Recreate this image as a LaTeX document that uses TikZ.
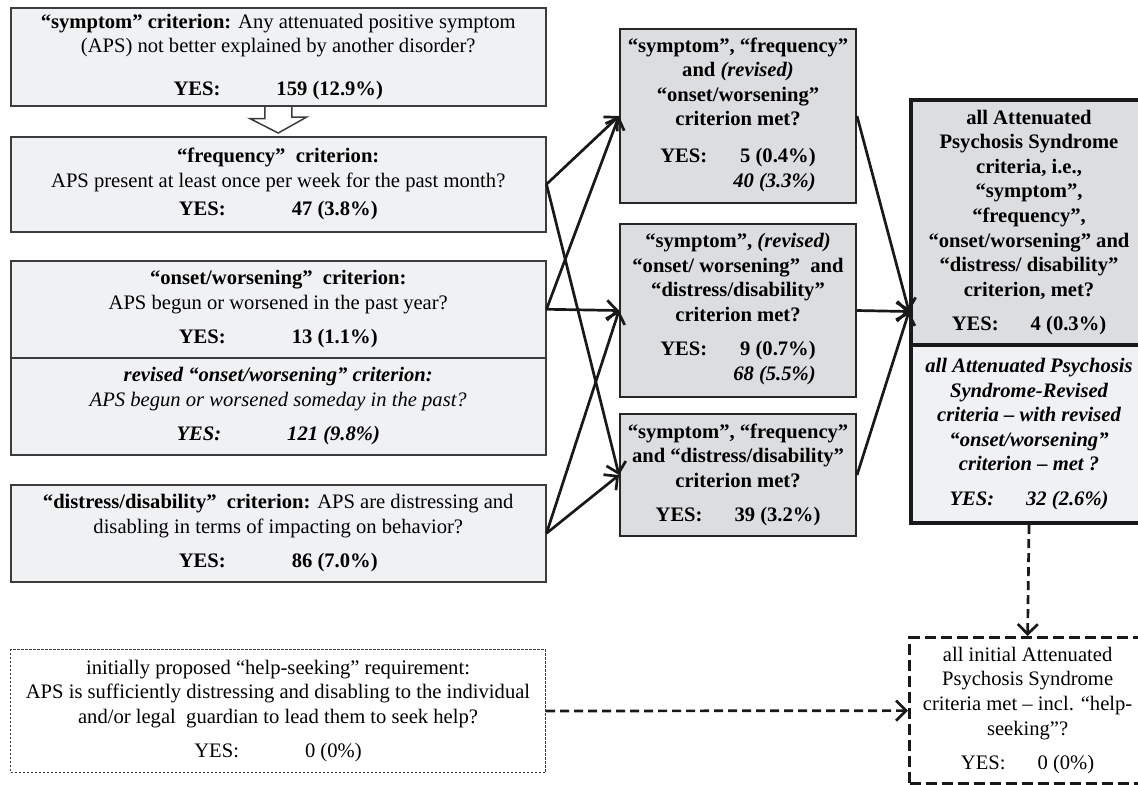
\documentclass[tikz,border=0pt]{standalone}
\usepackage{fontspec}
\setmainfont{Liberation Serif}
\usetikzlibrary{arrows.meta,calc}

\definecolor{critfill}{HTML}{F0F1F3}
\definecolor{combofill}{HTML}{DCDDDF}
\definecolor{boxline}{HTML}{3C3C3C}

\begin{document}
\begin{tikzpicture}[x=0.5pt,y=-0.5pt,
    every node/.style={font=\fontsize{10.3}{12.3}\selectfont, align=center,
      inner sep=0pt, anchor=north west, text=black},
    crit/.style={draw=boxline, line width=0.75pt, fill=critfill, minimum width=267.5pt},
    combo/.style={draw=black!85, line width=1pt, fill=combofill, minimum width=118pt,
      font=\fontsize{10.3}{12.3}\selectfont\bfseries},
    allaps/.style={draw=black!90, line width=2pt, minimum width=118pt},
    link/.style={line width=1.35pt, draw=black!90, -{Straight Barb[length=5pt,width=10pt]}},
    dlink/.style={link, dash pattern=on 4.5pt off 2.5pt}]
  \useasboundingbox (0,0) rectangle (1138,784);

  % single criteria
  \node[crit, minimum height=49pt] (symptom) at (10,7)
    {\textbf{“symptom” criterion:} Any attenuated positive symptom\\
     (APS) not better explained by another disorder?\\[9pt]
     \textbf{YES:\hspace{28pt}159 (12.9\%)}};
  \node[crit, minimum height=47.5pt] (frequency) at (10,136)
    {\textbf{“frequency”\ \ criterion:}\\
     APS present at least once per week for the past month?\\[2pt]
     \textbf{YES:\hspace{33pt}47 (3.8\%)}};
  \node[crit, minimum height=48.5pt] (onset) at (10,260)
    {\textbf{“onset/worsening”\ \ criterion:}\\
     APS begun or worsened in the past year?\\[5pt]
     \textbf{YES:\hspace{33pt}13 (1.1\%)}};
  \node[crit, minimum height=48.5pt] (revonset) at (10,357)
    {\textbf{\textit{revised “onset/worsening” criterion:}}\\
     \textit{APS begun or worsened someday in the past?}\\[5pt]
     \textbf{\textit{YES:\hspace{33pt}121 (9.8\%)}}};
  \node[crit, minimum height=48.5pt] (distress) at (10,484)
    {\textbf{“distress/disability”\ \ criterion:} APS are distressing and\\
     disabling in terms of impacting on behavior?\\[5pt]
     \textbf{YES:\hspace{33pt}86 (7.0\%)}};
  \node[crit, fill=white, line width=0.5pt, dash pattern=on 1.2pt off 0.8pt,
    minimum height=61.5pt] (helpseek) at (10,649)
    {initially proposed “help-seeking” requirement:\\
     APS is sufficiently distressing and disabling to the individual\\
     and/or legal\ \ guardian to lead them to seek help?\\[5pt]
     YES:\hspace{33pt}0 (0\%)};

  % combined criteria
  \node[combo, minimum height=87pt] (symfreqonset) at (619,28)
    {“symptom”, “frequency”\\ and \textit{(revised)}\\ “onset/worsening”\\ criterion met?\\[6pt]
     \begin{tabular}[t]{@{}l@{\hspace{13pt}}r@{}}YES: & 5 (0.4\%)\\ & \textit{40 (3.3\%)}\end{tabular}};
  \node[combo, minimum height=86.5pt] (symonsetdist) at (619,223)
    {“symptom”, \textit{(revised)}\\ “onset/ worsening”\ \ and\\ “distress/disability”\\ criterion met?\\[5pt]
     \begin{tabular}[t]{@{}l@{\hspace{13pt}}r@{}}YES: & 9 (0.7\%)\\ & \textit{68 (5.5\%)}\end{tabular}};
  \node[combo, minimum height=61pt] (symfreqdist) at (619,413)
    {“symptom”, “frequency”\\ and “distress/disability”\\ criterion met?\\[5pt]
     YES:\hspace{16pt}39 (3.2\%)};

  % all criteria
  \node[allaps, fill=combofill, minimum height=122.5pt,
    font=\fontsize{10.3}{12.3}\selectfont\bfseries] (apsall) at (909,98)
    {all Attenuated\\ Psychosis Syndrome\\ criteria, i.e.,\\ “symptom”,\\ “frequency”,\\
     “onset/worsening” and\\ “distress/ disability”\\ criterion, met?\\[5pt]
     YES:\hspace{16pt}4 (0.3\%)};
  \node[allaps, fill=critfill, minimum height=89pt,
    font=\fontsize{10.3}{12.3}\selectfont\bfseries\itshape] (apsrev) at (909,343)
    {all Attenuated Psychosis\\ Syndrome-Revised\\ criteria -- with revised\\
     “onset/worsening”\\ criterion -- met ?\\[5pt]
     YES:\hspace{16pt}32 (2.6\%)};
  \node[allaps, line width=1.6pt, dash pattern=on 5.5pt off 2.5pt,
    minimum height=73pt] (apsinit) at (908,636)
    {all initial Attenuated\\ Psychosis Syndrome\\ criteria met -- incl. “help-\\ seeking”?\\[5pt]
     YES:\hspace{16pt}0 (0\%)};
  \coordinate (apsin) at ($(apsall.north west)!0.5!(apsrev.south west)$);

  % hollow arrow
  \draw[boxline, line width=0.75pt]
    ([xshift=-6.75pt]symptom.south) -- ++(0pt,-6pt) -- ++(-7.5pt,0pt)
    -- ([yshift=1.5pt]frequency.north) -- ++(14.25pt,8pt) -- ++(-7.5pt,0pt)
    -- ([xshift=6.75pt]symptom.south);

  \begin{scope}[link]
    \draw (frequency.east) to (symfreqonset.west);
    \draw (frequency.east) to (symfreqdist.west);
    \draw (onset.east) to (symfreqonset.west);
    \draw (onset.east) to (symonsetdist.west);
    \draw (distress.east) to (symonsetdist.west);
    \draw (distress.east) to (symfreqdist.west);
    \draw (symfreqonset.east) to (apsin);
    \draw (symonsetdist.east) to (apsin);
    \draw (symfreqdist.east) to (apsin);
  \end{scope}
  \draw[dlink] (apsrev.south) to (apsinit.north);
  \draw[dlink] (helpseek.east) to (apsinit.west);
\end{tikzpicture}
\end{document}
